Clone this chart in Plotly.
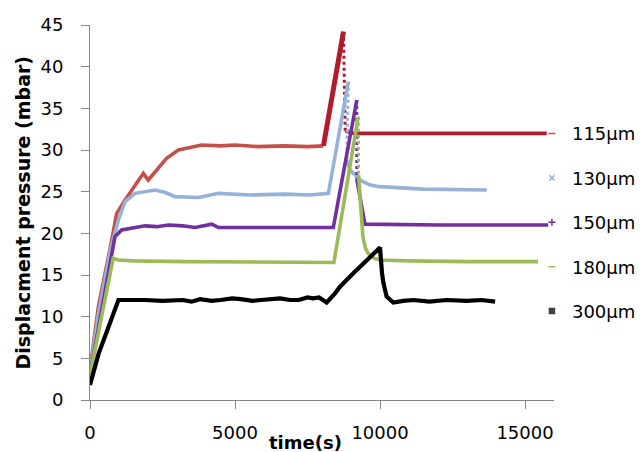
import plotly.graph_objects as go

# Displacement pressure vs time for five channel sizes
# Each series: time (s), pressure (mbar); *_peak / *_drop mark the sparse
# descent right after the breakthrough peak.
t115 = [0, 290, 750, 920, 1210, 1550, 1840, 2010, 2300, 2640, 3050, 3500, 3850,
        4500, 5000, 5800, 6700, 7500, 8050, 8740, 8800, 9070, 12000, 15750]
p115 = [3.6, 11.2, 19.2, 22.4, 24.0, 25.8, 27.2, 26.4, 27.6, 29.0, 30.0, 30.4, 30.6,
        30.5, 30.6, 30.4, 30.5, 30.4, 30.5, 44.2, 32.3, 32.0, 32.0, 32.0]
rise115, peak115, drop115 = 18, 19, 20

t130 = [0, 300, 700, 980, 1210, 1550, 2240, 2600, 2930, 3740, 4430, 5500, 6720,
        7590, 8220, 8910, 8850, 8970, 9310, 9660, 10000, 10690, 11500, 13680]
p130 = [3.4, 10.5, 18.0, 21.6, 23.8, 24.8, 25.2, 24.9, 24.4, 24.3, 24.8, 24.6, 24.7,
        24.6, 24.8, 38.2, 28.8, 27.6, 26.4, 25.8, 25.6, 25.5, 25.3, 25.2]
peak130, drop130 = 15, 16

t150 = [0, 750, 860, 1090, 1500, 1900, 2300, 2700, 3200, 3620, 4200, 4430, 5500,
        6720, 7800, 8390, 9200, 9200, 9480, 12000, 15800]
p150 = [3.0, 18.0, 19.6, 20.4, 20.6, 20.9, 20.8, 21.0, 20.9, 20.7, 21.1, 20.7, 20.7,
        20.7, 20.6, 20.7, 36.0, 26.5, 21.1, 21.0, 21.0]
peak150, drop150 = 16, 17

t180 = [0, 800, 980, 1500, 3280, 5000, 7000, 8410, 9250, 9260, 9330, 9410, 9500,
        9590, 9800, 10000, 11000, 13000, 15450]
p180 = [3.0, 17.0, 16.8, 16.7, 16.6, 16.6, 16.6, 16.5, 34.0, 27.0, 23.0, 19.6, 18.2,
        17.6, 17.0, 16.8, 16.7, 16.6, 16.6]
peak180, drop180 = 8, 9

t300 = [0, 300, 600, 980, 1900, 2500, 3200, 3500, 3800, 4200, 4500, 4900, 5200,
        5600, 5900, 6300, 6550, 6900, 7200, 7500, 7690, 7900, 8160, 8450, 8620,
        9080, 9540, 10000, 10070, 10120, 10230, 10460, 10800, 11150, 11700, 12300,
        13000, 13500, 13970]
p300 = [1.8, 5.6, 8.4, 12.0, 12.0, 11.9, 12.0, 11.8, 12.1, 11.9, 12.0, 12.2, 12.1,
        11.9, 12.0, 12.1, 12.2, 12.0, 12.0, 12.3, 12.2, 12.3, 11.7, 12.8, 13.6,
        15.2, 16.8, 18.3, 15.2, 14.0, 12.4, 11.7, 11.9, 12.0, 11.8, 12.0,
        11.9, 12.0, 11.8]

labels = ["115µm", "130µm", "150µm", "180µm", "300µm"]
xticks = [0, 5000, 10000, 15000]
yticks = [0, 5, 10, 15, 20, 25, 30, 35, 40, 45]

C115A, C115B = "#C4504C", "#B01C2E"
C130, C150, C180, C300 = "#95B3D7", "#7030A0", "#9BBB59", "#000000"

FONT = "DejaVu Sans"
W = 3.6

fig = go.Figure()


def seg(x, y, color, width=W, dash="solid"):
    fig.add_trace(go.Scatter(x=x, y=y, mode="lines", showlegend=False,
                             hoverinfo="skip",
                             line=dict(color=color, width=width, dash=dash)))


# 115 µm: lighter before the pressure ramp, darker from the ramp on
seg(t115[:rise115 + 1], p115[:rise115 + 1], C115A)
seg(t115[rise115:peak115 + 1], p115[rise115:peak115 + 1], C115B, width=5)
seg(t115[peak115:drop115 + 1], p115[peak115:drop115 + 1], C115B, width=3, dash="dot")
seg(t115[drop115:], p115[drop115:], C115B)

for t, p, c, pk, dr in [(t130, p130, C130, peak130, drop130),
                        (t150, p150, C150, peak150, drop150),
                        (t180, p180, C180, peak180, drop180)]:
    seg(t[:pk + 1], p[:pk + 1], c)
    seg(t[pk:dr + 1], p[pk:dr + 1], c, width=3, dash="dot")
    seg(t[dr:], p[dr:], c)

seg(t300, p300, C300, width=4.2)

# legend entries: small Excel-style markers
symbols = ["line-ew", "x-thin", "cross-thin", "line-ew", "square-x"]
mcolors = [C115A, C130, C150, C180, "#404040"]
for i, (lab, sym, mc) in enumerate(zip(labels, symbols, mcolors)):
    fig.add_trace(go.Scatter(
        x=[None], y=[None], mode="markers", name=lab, legendgroup=f"g{i}",
        marker=dict(symbol=sym, size=5, color=mc,
                    line=dict(color=mc, width=1.5))))

axis_common = dict(showgrid=False, zeroline=False, showline=True,
                   linecolor="#868686", linewidth=1, ticks="outside",
                   tickcolor="#868686", ticklen=8, tickwidth=1,
                   tickfont=dict(family=FONT, size=18, color="#000000"))

fig.update_xaxes(range=[0, 16000], tickvals=xticks,
                 ticktext=[str(v) for v in xticks],
                 ticklabelstandoff=8, **axis_common)
fig.update_yaxes(range=[0, 45], tickvals=yticks,
                 ticktext=[str(v) for v in yticks],
                 ticklabelstandoff=14, **axis_common)

fig.update_layout(
    width=644, height=452,
    margin=dict(l=90, r=90, t=25, b=52, autoexpand=False),
    paper_bgcolor="white", plot_bgcolor="white",
    font=dict(family=FONT, size=18, color="#000000"),
    legend=dict(xref="container", yref="container", x=0.826, y=0.745,
                xanchor="left", yanchor="top", tracegroupgap=18,
                maxheight=420,
                bgcolor="rgba(0,0,0,0)", borderwidth=0,
                font=dict(family=FONT, size=18, color="#000000")),
    annotations=[
        dict(text="<b>time(s)</b>", xref="paper", yref="paper",
             x=(305 - 90) / 464, y=-42 / 375, xanchor="center", yanchor="middle",
             showarrow=False, font=dict(family=FONT, size=18)),
        dict(text="<b>Displacment pressure (mbar)</b>", xref="paper", yref="paper",
             x=-68 / 464, y=0.5, xanchor="center", yanchor="middle",
             textangle=-90, showarrow=False, font=dict(family=FONT, size=19)),
    ],
)

fig.write_html("out.html")
